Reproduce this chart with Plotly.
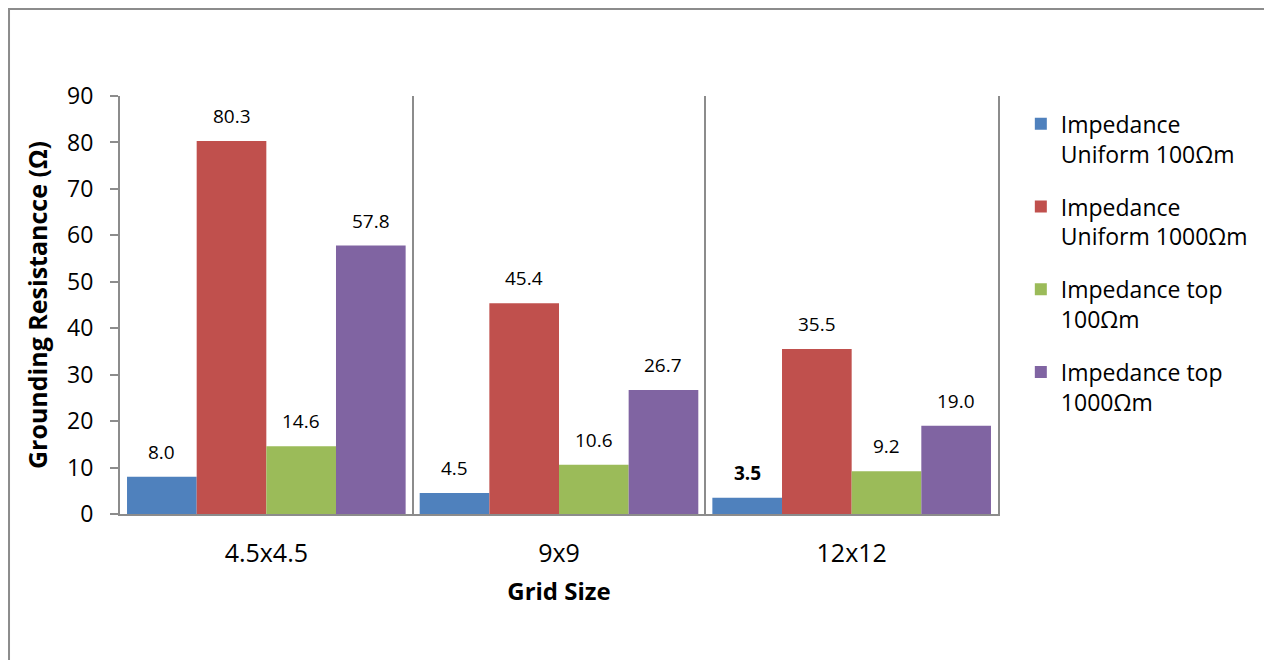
import plotly.graph_objects as go

categories = ["4.5x4.5", "9x9", "12x12"]
series_names = [
    "Impedance<br>Uniform 100Ωm",
    "Impedance<br>Uniform 1000Ωm",
    "Impedance top<br>100Ωm",
    "Impedance top<br>1000Ωm",
]
uniform_100 = [8.0, 4.5, 3.5]
uniform_1000 = [80.3, 45.4, 35.5]
top_100 = [14.6, 10.6, 9.2]
top_1000 = [57.8, 26.7, 19.0]
series_values = [uniform_100, uniform_1000, top_100, top_1000]
colors = ["#4F81BD", "#C0504D", "#9BBB59", "#8064A2"]
bold_labels = {(0, 2)}  # (series, category) labels shown bold

FONT = "Open Sans"
bargap = 0.048

fig = go.Figure()
for i, (name, vals, col) in enumerate(zip(series_names, series_values, colors)):
    fig.add_trace(go.Bar(x=categories, y=vals, name=name, legendgroup=f"g{i}",
                         marker=dict(color=col, line=dict(width=0))))

n = len(series_values)
w = (1 - bargap) / n
annotations = []
for si, vals in enumerate(series_values):
    for ci, v in enumerate(vals):
        txt = f"{v:.1f}"
        if (si, ci) in bold_labels:
            txt = f"<b>{txt}</b>"
        annotations.append(dict(
            x=ci + (si - (n - 1) / 2) * w, y=v, xref="x", yref="y",
            text=txt, showarrow=False, yanchor="middle", yshift=25,
            font=dict(family=FONT, size=19, color="#000000"),
        ))

fig.update_layout(
    width=1264, height=652,
    margin=dict(l=112, r=274, t=88, b=146),
    paper_bgcolor="white", plot_bgcolor="white",
    barmode="group", bargap=bargap, bargroupgap=0,
    font=dict(family=FONT, color="#000000"),
    showlegend=True,
    legend=dict(
        x=1.026, y=0.985, xanchor="left", yanchor="top",
        font=dict(family=FONT, size=23, color="#000000"),
        valign="top", tracegroupgap=20, traceorder="grouped",
        itemwidth=30,
    ),
    annotations=annotations,
    shapes=[dict(
        type="rect", xref="paper", yref="paper",
        x0=-0.1264, x1=1.33, y0=-0.38, y1=1.2081,
        line=dict(color="#8C8C8C", width=2), fillcolor="rgba(0,0,0,0)", layer="below",
    )],
)

fig.update_xaxes(
    type="category", range=[-0.5, 2.5],
    tickson="boundaries", showgrid=True, gridcolor="#8C8C8C", gridwidth=2,
    showline=True, linecolor="#8C8C8C", linewidth=2, ticks="",
    ticklabelstandoff=16,
    tickfont=dict(family=FONT, size=25, color="#000000"),
    title=dict(text="<b>Grid Size</b>", font=dict(family=FONT, size=24, color="#000000"), standoff=15),
)
fig.update_yaxes(
    range=[0, 90], dtick=10, showgrid=False, zeroline=False,
    showline=True, linecolor="#8C8C8C", linewidth=2, mirror=True,
    ticks="outside", ticklen=8, tickcolor="#8C8C8C", tickwidth=2,
    ticklabelstandoff=12,
    tickfont=dict(family=FONT, size=23, color="#000000"),
    title=dict(text="<b>Grounding Resistancce (Ω)</b>", font=dict(family=FONT, size=25, color="#000000"), standoff=12),
)

fig.write_html("out.html")
